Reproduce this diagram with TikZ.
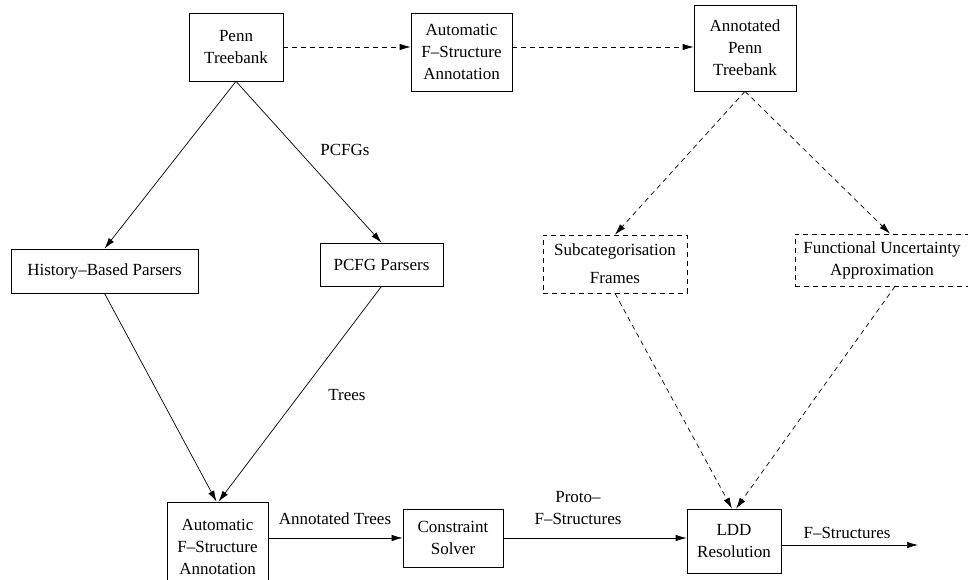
\documentclass[tikz,border=0pt]{standalone}
\usepackage{fontspec}
\setmainfont{Liberation Serif}
\usetikzlibrary{positioning}
\usetikzlibrary{arrows.meta}
\tikzset{mybox/.style={draw, line width=0.7pt, align=center, inner sep=0pt,
font=\fontsize{17}{22}\selectfont},
myarrow/.style={-{Latex[length=11pt,width=6.5pt]}, line width=0.7pt}}

\begin{document}
\begin{tikzpicture}[x=1pt, y=-1pt, dsh/.style={dash pattern=on 5pt off 4pt},
lbl/.style={font=\fontsize{17}{22}\selectfont, align=center}]
	\useasboundingbox (0,0) rectangle (968,580);
	% top row
	\node[mybox, minimum width=94pt, minimum height=68pt](pt) at (236,47) {Penn\\Treebank};
	\node[mybox, minimum width=101pt, minimum height=78pt](afa) at (461.5,52) {Automatic\\F--Structure\\Annotation};
	\node[mybox, minimum width=102pt, minimum height=86pt](apt) at (745,48) {Annotated\\Penn\\Treebank};
	% middle row
	\node[mybox, minimum width=187pt, minimum height=44pt](hbp) at (104.5,271) {History--Based Parsers};
	\node[mybox, minimum width=123pt, minimum height=43pt](pcfgp) at (381.5,264.5) {PCFG Parsers};
	\node[mybox, dsh, minimum width=144pt, minimum height=58pt](sf) at (615,264) {Subcategorisation\\[6pt]Frames};
	\node[mybox, dsh, minimum width=174pt, minimum height=52pt](fua) at (882,260) {Functional Uncertainty\\Approximation};
	% bottom row
	\node[mybox, minimum width=101pt, minimum height=90pt](afb) at (217.5,547) {Automatic\\F--Structure\\Annotation};
	\node[mybox, minimum width=100pt, minimum height=58pt](cs) at (453,538) {Constraint\\Solver};
	\node[mybox, minimum width=94pt, minimum height=64pt](ldd) at (734,541) {LDD\\Resolution};
	\coordinate (out) at (918,545);
	% labels
	\node[lbl](pcfgs) at (345,150) {PCFGs};
	\node[lbl](trees) at (347,395) {Trees};
	\node[lbl](antr) at (335,519) {Annotated Trees};
	\node[lbl](pfs) at (578,508) {Proto--\\F--Structures};
	\node[lbl](fs) at (847,533) {F--Structures};
	% connectors
	\draw[myarrow, dsh] (pt.east) -- (afa.west |- pt.east);
	\draw[myarrow, dsh] (afa.east |- pt.east) -- (apt.west |- pt.east);
	\draw[myarrow] (pt.south) -- (hbp.north);
	\draw[myarrow] (pt.south) -- (pcfgp.north);
	\draw[myarrow] (hbp.south) -- ([xshift=-1pt]afb.north);
	\draw[myarrow] (pcfgp.south) -- ([xshift=1pt]afb.north);
	\draw[myarrow, dsh] (apt.south) -- (sf.north);
	\draw[myarrow, dsh] (apt.south) -- ([xshift=8pt]fua.north);
	\draw[myarrow, dsh] (sf.south) -- ([xshift=-2pt]ldd.north);
	\draw[myarrow, dsh] ([xshift=13pt]fua.south) -- ([xshift=2pt]ldd.north);
	\draw[myarrow] (afb.east |- cs.west) -- (cs.west);
	\draw[myarrow] (cs.east) -- (ldd.west |- cs.east);
	\draw[myarrow] (ldd.east |- out) -- (out);
\end{tikzpicture}
\end{document}
